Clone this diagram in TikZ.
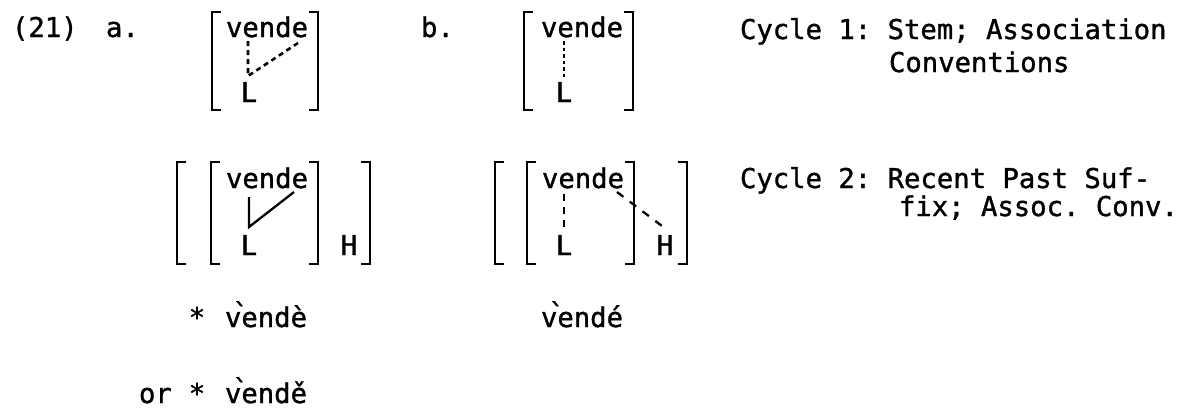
\documentclass[tikz,border=0pt]{standalone}
\usepackage{fontspec}
\newfontfamily\lgfont[FakeBold=1.2]{DejaVu Sans Mono}
\newcommand{\gv}{\rlap{\kern7.5pt\raisebox{4pt}{\char"0060}}v}
\frenchspacing
\tikzset{
  txt/.style={inner sep=0pt, outer sep=0pt, font=\lgfont\fontsize{27.25}{32}\selectfont\frenchspacing, anchor=base west},
  ctxt/.style={txt, anchor=base},
  brk/.style={line width=2.8pt, line cap=butt, line join=miter},
  assoc/.style={line width=2.3pt},
  dassoc/.style={line width=2.6pt, dash pattern=on 5pt off 4pt},
  dotassoc/.style={line width=2.8pt, dash pattern=on 3.5pt off 3pt},
}
\newcommand{\lbrk}[3]{\draw[brk] (#1+9,#2) -- (#1,#2) -- (#1,#3) -- (#1+9,#3);}
\newcommand{\rbrk}[3]{\draw[brk] (#1-9,#2) -- (#1,#2) -- (#1,#3) -- (#1-9,#3);}
\begin{document}
\begin{tikzpicture}[x=1pt,y=-1pt]
\useasboundingbox (0,0) rectangle (1184,413);
\fill[white] (0,0) rectangle (1184,413);

% Row 1
\node[txt] (num) at (12,37) {(21)};
\node[txt] (la) at (106,37) {a.};
\lbrk{212}{12}{110}
\rbrk{318}{12}{110}
\node[txt] (va1) at (226,37) {vende};
\node[ctxt] (La1) at (249,102) {L};
\coordinate (a1e1) at (248,41);
\coordinate (a1k) at (248,76);
\coordinate (a1e2) at (298,43);
\draw[dassoc] (a1e1) -- (a1k) -- (a1e2);

\node[txt] (lb) at (421,37) {b.};
\lbrk{524}{12}{110}
\rbrk{633}{12}{110}
\node[txt] (vb1) at (541,37) {vende};
\node[ctxt] (Lb1) at (564,102) {L};
\coordinate (b1e1) at (564,41);
\coordinate (b1k) at (564,78);
\draw[dotassoc] (b1e1) -- (b1k);

\node[txt] (c1a) at (740,39) {Cycle 1: Stem; Association};
\node[txt] (c1b) at (889,72) {Conventions};

% Row 2
\lbrk{177}{162}{264}
\lbrk{211}{162}{264}
\rbrk{318}{162}{264}
\rbrk{370}{162}{264}
\node[txt] (va2) at (226,188) {vende};
\node[ctxt] (La2) at (249,255) {L};
\node[ctxt] (Ha2) at (349,255) {H};
\coordinate (a2e1) at (249,197);
\coordinate (a2k) at (249,227);
\coordinate (a2e2) at (294,192);
\draw[assoc] (a2e1) -- (a2k) -- (a2e2);

\lbrk{495}{162}{264}
\lbrk{527}{162}{264}
\rbrk{634}{162}{264}
\rbrk{687}{162}{264}
\node[txt] (vb2) at (542,188) {vende};
\node[ctxt] (Lb2) at (564,255) {L};
\node[ctxt] (Hb2) at (665,255) {H};
\coordinate (b2e1) at (564,194);
\coordinate (b2k) at (564,228);
\draw[assoc, dash pattern=on 7pt off 6pt] (b2e1) -- (b2k);
\coordinate (b2e2) at (617,192);
\coordinate (b2h) at (662,226);
\draw[assoc, dash pattern=on 8pt off 8pt] (b2e2) -- (b2h);

\node[txt] (c2a) at (740,188) {Cycle 2: Recent Past Suf-};
\node[txt] (c2b) at (899,216) {fix; Assoc. Conv.};

% Row 3
\node[ctxt] (st1) at (197,327) {*};
\node[txt] (fa1) at (225,327) {\gv endè};
\node[txt] (fb1) at (541,327) {\gv endé};
\node[txt] (or) at (139,403) {or};
\node[ctxt] (st2) at (197,403) {*};
\node[txt] (fa2) at (225,403) {\gv endě};
\end{tikzpicture}
\end{document}
